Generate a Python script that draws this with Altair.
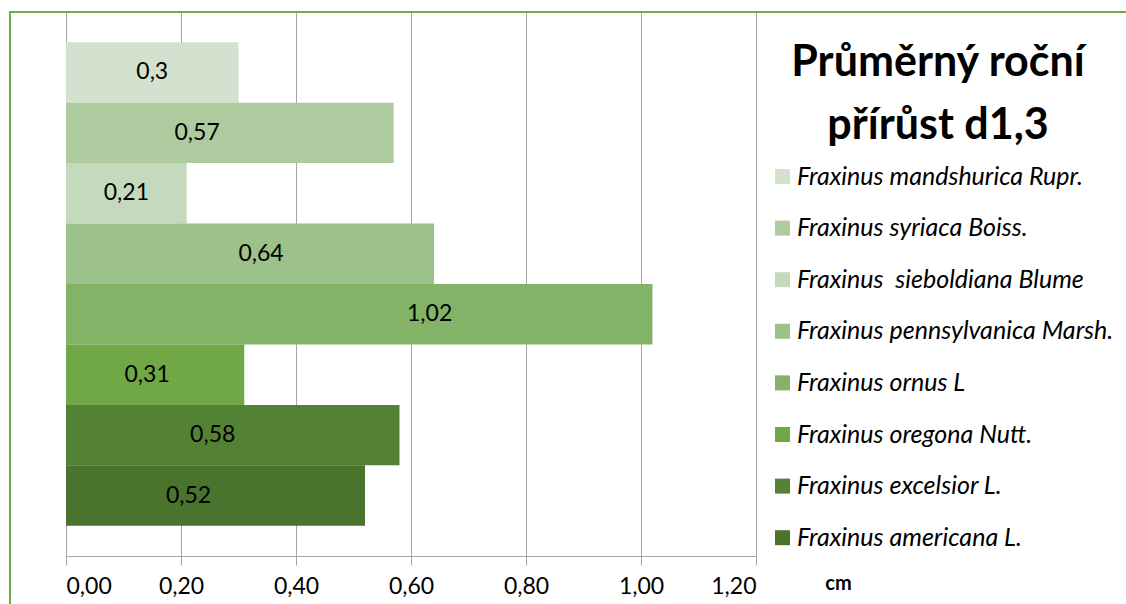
import altair as alt
import pandas as pd

# Mean annual diameter increment (d1,3) per ash species, in cm
species = [
    "Fraxinus mandshurica Rupr.",
    "Fraxinus syriaca Boiss.",
    "Fraxinus\u00a0 sieboldiana Blume",
    "Fraxinus pennsylvanica Marsh.",
    "Fraxinus ornus L",
    "Fraxinus oregona Nutt.",
    "Fraxinus excelsior L.",
    "Fraxinus americana L.",
]
growth = [0.3, 0.57, 0.21, 0.64, 1.02, 0.31, 0.58, 0.52]
x_ticks = [0, 0.2, 0.4, 0.6, 0.8, 1.0, 1.2]

# styling
colors = ["#d3e2cf", "#aecba0", "#c5dabc", "#9dc18a",
          "#82b366", "#6fa845", "#548235", "#4a732e"]
label_frac = [0.5, 0.4, 0.5, 0.53, 0.62, 0.455, 0.44, 0.41]  # where along each bar its label sits

df = pd.DataFrame({
    "druh": species,
    "prirust": growth,
    "poloha": [g * f for g, f in zip(growth, label_frac)],
})

W, H = 690, 544
FONT = "Lato"
GRID = "#a6a6a6"
BORDER = "#70ad47"

y_enc = alt.Y("druh:N", sort=species, axis=None,
              scale=alt.Scale(paddingInner=0, paddingOuter=0.5))

bars = alt.Chart(df).mark_bar().encode(
    x=alt.X(
        "prirust:Q",
        scale=alt.Scale(domain=[0, 1.2], nice=False, zero=True),
        axis=alt.Axis(
            values=x_ticks,
            labelExpr="replace(format(datum.value, '.2f'), '.', ',')",
            grid=True, gridColor=GRID, gridWidth=1,
            domainColor=GRID, tickColor=GRID, tickSize=9,
            labelFont=FONT, labelFontSize=23, labelColor="black", labelPadding=10,
            title="cm", titleFont=FONT, titleFontSize=20, titleFontWeight="bold",
            titleColor="black", titleX=772, titleY=27,
            titleBaseline="middle", titleAlign="center",
        ),
    ),
    y=y_enc,
    color=alt.Color(
        "druh:N", sort=species,
        scale=alt.Scale(domain=species, range=colors),
        legend=alt.Legend(
            orient="none", legendX=704, legendY=152, title=None,
            symbolType="square", symbolSize=225, symbolStrokeWidth=0,
            symbolOpacity=1, labelFont=FONT, labelFontStyle="italic",
            labelFontSize=25, labelColor="black", rowPadding=25.6,
            labelOffset=2, labelLimit=400,
        ),
    ),
)

labels = alt.Chart(df).transform_calculate(
    txt="replace(format(datum.prirust, '.2~f'), '.', ',')"
).mark_text(font=FONT, fontSize=23, color="black").encode(
    x="poloha:Q",
    y=y_enc,
    text="txt:N",
)

one = alt.Data(values=[{}])
left_border = alt.Chart(one).mark_rule(color=BORDER, strokeWidth=2).encode(
    x=alt.value(-56), y=alt.value(0), y2=alt.value(H + 70)
)
top_border = alt.Chart(one).mark_rule(color=BORDER, strokeWidth=2).encode(
    x=alt.value(-57), x2=alt.value(1126), y=alt.value(0)
)

chart = alt.layer(bars, labels, left_border, top_border).properties(
    width=W, height=H,
    title=alt.TitleParams(
        ["Průměrný roční", "přírůst d1,3"],
        font=FONT, fontSize=43, fontWeight="bold", color="black",
        anchor="start", align="center", frame="group",
        dx=872, dy=136.5, offset=0, baseline="top", lineHeight=63,
    ),
    autosize=alt.AutoSizeParams(type="none"),
    padding={"left": 66, "top": 12, "right": 370, "bottom": 48},
).configure_view(strokeWidth=0)

chart.save("out.html", embed_options={"renderer": "svg", "actions": False})
